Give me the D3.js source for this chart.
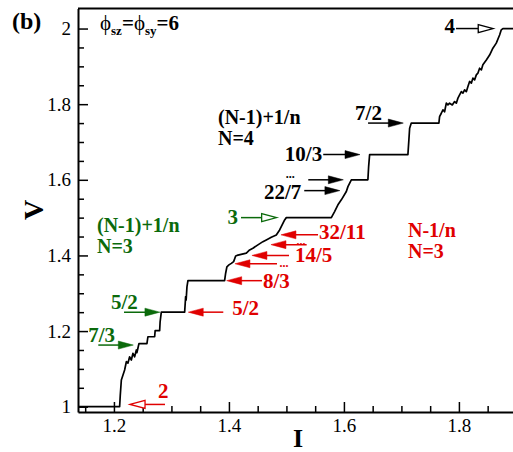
<!DOCTYPE html>
<html>
<head>
<meta charset="utf-8">
<script src="https://cdn.jsdelivr.net/npm/d3@7"></script>
<style>
  body { margin: 0; background: #fff; }
  svg { font-family: "Liberation Serif", "Times New Roman", serif; }
</style>
</head>
<body>
<svg id="drawing_region"></svg>
<script>
// I-V curve
const curve = [
    [1.1375, 1.0], [1.2099, 1.0], [1.2110, 1.03], [1.2129, 1.0706], [1.2186, 1.097],
    [1.2216, 1.119], [1.2243, 1.115], [1.2273, 1.132], [1.2303, 1.1235], [1.2330, 1.141],
    [1.2360, 1.132], [1.2390, 1.150], [1.2400, 1.143], [1.2417, 1.1545], [1.2435, 1.1667],
    [1.2574, 1.1667], [1.2591, 1.185], [1.2708, 1.185], [1.2717, 1.201], [1.2795, 1.201],
    [1.2803, 1.224], [1.2824, 1.25], [1.3230, 1.25], [1.3247, 1.291], [1.3256, 1.282],
    [1.3270, 1.317], [1.3287, 1.3333], [1.3925, 1.3333], [1.3943, 1.353], [1.3965, 1.370],
    [1.4000, 1.375], [1.4042, 1.379], [1.4082, 1.3836], [1.4117, 1.3987], [1.4140, 1.40],
    [1.4303, 1.406], [1.4360, 1.4145], [1.4417, 1.419], [1.4504, 1.428], [1.4591, 1.4365],
    [1.4650, 1.441], [1.4737, 1.448], [1.4824, 1.454], [1.4882, 1.4675], [1.4969, 1.494],
    [1.4998, 1.50], [1.5781, 1.50], [1.5838, 1.516], [1.5896, 1.534], [1.5955, 1.547],
    [1.6042, 1.569], [1.6070, 1.582], [1.6129, 1.60], [1.6417, 1.60], [1.6430, 1.635],
    [1.6447, 1.6667], [1.7113, 1.6667], [1.7130, 1.7056], [1.7143, 1.7365], [1.7172, 1.75],
    [1.7652, 1.75], [1.7664, 1.767], [1.7694, 1.776], [1.7722, 1.785], [1.7751, 1.780],
    [1.7781, 1.8026], [1.7809, 1.798], [1.7838, 1.8026], [1.7885, 1.798], [1.7925, 1.807],
    [1.7955, 1.8026], [1.7983, 1.816], [1.8012, 1.8246], [1.8042, 1.8333], [1.8070, 1.829],
    [1.8099, 1.838], [1.8129, 1.833], [1.8157, 1.8466], [1.8186, 1.860], [1.8216, 1.8556],
    [1.8243, 1.8688], [1.8273, 1.8643], [1.8303, 1.8775], [1.8330, 1.882], [1.8360, 1.895],
    [1.8390, 1.8907], [1.8417, 1.904], [1.8477, 1.917], [1.8534, 1.930], [1.8591, 1.948],
    [1.8650, 1.9614], [1.8708, 1.983], [1.8737, 1.9966], [1.8765, 2.0], [1.9, 2.0]
];

const x_ticks = [1.2, 1.4, 1.6, 1.8];
const x_minor = [1.15, 1.25, 1.3, 1.35, 1.45, 1.5, 1.55, 1.65, 1.7, 1.75, 1.85];
const y_ticks = [1, 1.2, 1.4, 1.6, 1.8, 2];
const y_minor = [1.05, 1.1, 1.15, 1.25, 1.3, 1.35, 1.45, 1.5, 1.55, 1.65, 1.7, 1.75, 1.85, 1.9, 1.95];

// arrows: label, V level, I at tail, I at head
const black_labels = ['4', '7/2', '10/3', '', '22/7'];
const black_V    = [2.0, 1.75, 1.6667, 1.6, 1.5714];
const black_tail = [1.795, 1.642, 1.564, 1.538, 1.531];
const black_head = [1.8597, 1.7033, 1.628, 1.599, 1.593];

const green_labels = ['3', '5/2', '7/3'];
const green_V    = [1.5, 1.25, 1.163];
const green_tail = [1.421, 1.2175, 1.1728];
const green_head = [1.483, 1.280, 1.2337];

const red_labels = ['2', '5/2', '8/3', '', '14/5', '', '32/11'];
const red_V    = [1.006, 1.25, 1.3333, 1.378, 1.4, 1.4286, 1.4545];
const red_tail = [1.2888, 1.3902, 1.4575, 1.4836, 1.5045, 1.5352, 1.555];
const red_head = [1.228, 1.3293, 1.3961, 1.4105, 1.44, 1.4731, 1.4905];

const BLACK = '#000', GREEN = '#0b6a0b', RED = '#e00000';

const config = {
    width: 513,
    height: 452,
    xrange: [78, 516.4],
    yrange: [412, 8.5],
    xdomain: [1.1375, 1.9],
    ydomain: [0.986, 2.053]
};

const svg = d3.select('#drawing_region')
    .attr('width', config.width)
    .attr('height', config.height);

const xscale = d3.scaleLinear().domain(config.xdomain).range(config.xrange);
const yscale = d3.scaleLinear().domain(config.ydomain).range(config.yrange);

// axes (ticks point inwards)
svg.append('g')
    .attr('transform', `translate(0, ${config.yrange[0]})`)
    .call(d3.axisBottom(xscale).tickValues(x_ticks).tickSize(-10).tickSizeOuter(0)
        .tickPadding(7).tickFormat(d3.format('')));
svg.append('g')
    .attr('transform', `translate(0, ${config.yrange[0]})`)
    .call(d3.axisBottom(xscale).tickValues(x_minor).tickSize(-6).tickFormat(''))
    .call(g => g.select('.domain').remove());

svg.append('g')
    .attr('transform', `translate(${config.xrange[0]}, 0)`)
    .call(d3.axisLeft(yscale).tickValues(y_ticks).tickSize(-10).tickSizeOuter(0)
        .tickPadding(7).tickFormat(d3.format('')));
svg.append('g')
    .attr('transform', `translate(${config.xrange[0]}, 0)`)
    .call(d3.axisLeft(yscale).tickValues(y_minor).tickSize(-6).tickFormat(''))
    .call(g => g.select('.domain').remove());

svg.selectAll('.domain').attr('stroke', '#000').attr('stroke-width', 2);
svg.selectAll('.tick line').attr('stroke', '#000').attr('stroke-width', 1.5);
svg.selectAll('.tick text')
    .attr('font-family', '"Liberation Serif", serif')
    .attr('font-size', '19px')
    .attr('fill', '#000');

// top and right frame
svg.append('path')
    .attr('d', `M${config.xrange[0]},${config.yrange[1]}H${config.xrange[1]}V${config.yrange[0]}`)
    .attr('fill', 'none')
    .attr('stroke', '#000')
    .attr('stroke-width', 2);

// the curve
svg.append('path')
    .datum(curve)
    .attr('fill', 'none')
    .attr('stroke', '#000')
    .attr('stroke-width', 1.7)
    .attr('stroke-linejoin', 'round')
    .attr('d', d3.line().x(d => xscale(d[0])).y(d => yscale(d[1])));

// arrows
function draw_arrows(labels, V, tail, head, color, open, layout) {
    labels.forEach((lab, i) => {
        const y = yscale(V[i]);
        const x0 = xscale(tail[i]);
        const x1 = xscale(head[i]);
        const dir = Math.sign(x1 - x0);
        const hl = 15, hw = 4;
        const isOpen = open[i];
        svg.append('line')
            .attr('x1', x0).attr('y1', y)
            .attr('x2', x1 - dir * (isOpen ? hl : 4)).attr('y2', y)
            .attr('stroke', color).attr('stroke-width', 1.5);
        svg.append('path')
            .attr('d', `M${x1},${y}L${x1 - dir * hl},${y - hw}L${x1 - dir * hl},${y + hw}Z`)
            .attr('fill', isOpen ? '#fff' : color)
            .attr('stroke', color)
            .attr('stroke-width', isOpen ? 1.3 : 0.5);
        if (lab !== '') {
            const l = layout[i];
            svg.append('text')
                .attr('x', x0 + l[1]).attr('y', y + l[2])
                .attr('text-anchor', l[0])
                .attr('font-size', '21px')
                .attr('font-weight', 'bold')
                .attr('fill', color)
                .text(lab);
        }
    });
}

draw_arrows(black_labels, black_V, black_tail, black_head, BLACK,
    [true, false, false, false, false],
    [['end', -1, 4], ['start', -13, -3], ['end', -1, 6], null, ['end', -3, 8]]);
draw_arrows(green_labels, green_V, green_tail, green_head, GREEN,
    [true, false, false],
    [['end', -3, 6], ['start', -13, -3], ['start', -10, -3]]);
draw_arrows(red_labels, red_V, red_tail, red_head, RED,
    [true, false, false, false, false, false, false],
    [['start', -7, -6], ['start', 9, 3], ['start', 1, 7], null, ['start', 6, 7], null, ['start', 1, 4]]);

// little dots marking the continuing series
function dots(x, y, color) {
    svg.append('text')
        .attr('x', x).attr('y', y)
        .attr('text-anchor', 'middle')
        .attr('font-size', '12px')
        .attr('font-weight', 'bold')
        .attr('fill', color)
        .text('...');
}
dots(xscale(black_tail[4]) - 14, yscale(black_V[3]) - 2, BLACK);
dots(xscale(red_tail[4]) + 12, yscale(red_V[4]) - 10, RED);
dots(xscale(red_tail[3]) + 7, yscale(red_V[3]) + 3, RED);

// text blocks
function block(x, y, lines, color) {
    const t = svg.append('text')
        .attr('font-size', '20px')
        .attr('font-weight', 'bold')
        .attr('fill', color);
    lines.forEach((s, i) => {
        t.append('tspan').attr('x', x).attr('y', y + i * 21).text(s);
    });
}
block(218, 124, ['(N-1)+1/n', 'N=4'], BLACK);
block(97, 232, ['(N-1)+1/n', 'N=3'], GREEN);
block(408, 237, ['N-1/n', 'N=3'], RED);

svg.append('text')
    .attr('x', 12).attr('y', 29)
    .attr('font-size', '24px')
    .attr('font-weight', 'bold')
    .text('(b)');

const phi = svg.append('text')
    .attr('x', 100).attr('y', 30)
    .attr('font-size', '21px')
    .attr('font-weight', 'bold');
phi.append('tspan').attr('font-weight', 'normal').text('ϕ');
phi.append('tspan').attr('font-size', '13px').attr('dy', 5).text('sz');
phi.append('tspan').attr('dy', -5).text('=');
phi.append('tspan').attr('font-weight', 'normal').text('ϕ');
phi.append('tspan').attr('font-size', '13px').attr('dy', 5).text('sy');
phi.append('tspan').attr('dy', -5).text('=6');

// axis titles
svg.append('text')
    .attr('x', 298).attr('y', 447)
    .attr('text-anchor', 'middle')
    .attr('font-size', '26px')
    .attr('font-weight', 'bold')
    .text('I');

svg.append('text')
    .attr('transform', 'translate(43, 210) rotate(-90)')
    .attr('text-anchor', 'middle')
    .attr('font-size', '28px')
    .attr('font-weight', 'bold')
    .text('V');
</script>
</body>
</html>
